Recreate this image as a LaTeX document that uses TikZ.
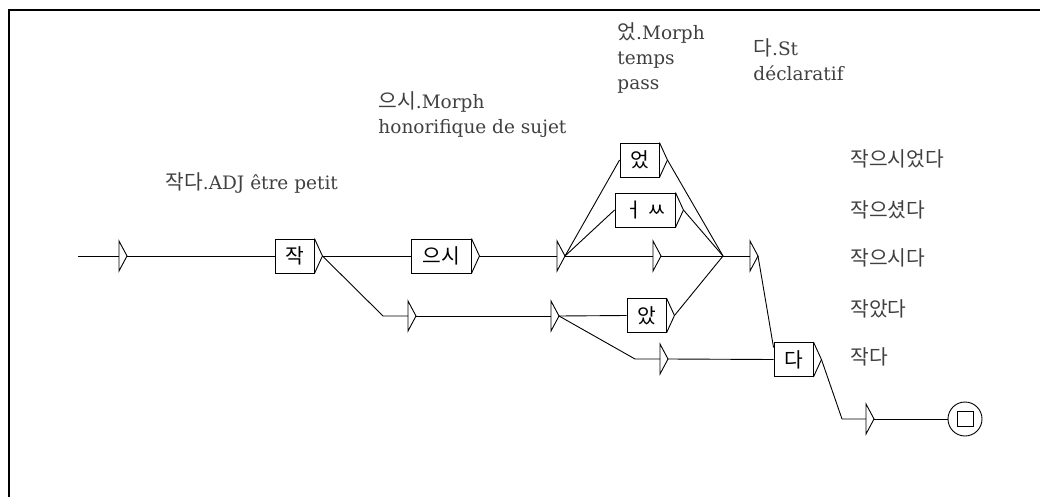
\documentclass[tikz,border=0pt]{standalone}
\usepackage{fontspec}
\setmainfont{DejaVu Serif}
\newfontfamily\krfont{Noto Sans CJK KR}[Scale=1.1]
\newcommand{\kor}[1]{{\krfont #1}}
\usetikzlibrary{positioning}

\tikzset{
  box/.style={draw, rectangle, inner sep=0pt, minimum height=34pt},
  lab/.style={anchor=west, align=left, text=black!75, inner sep=0pt},
  tri/.pic={\draw (-8,-15) -- (0,0) -- (-8,15) -- cycle;
    \coordinate (-in) at (-8,0);
    \coordinate (-out) at (0,0);}
}
\newcommand{\boxtri}[1]{\draw (#1.north east) -- ([xshift=8pt]#1.east) coordinate (#1-out) -- (#1.south east);}

\begin{document}
\begin{tikzpicture}[x=1pt, y=-1pt, line width=0.9pt, font=\fontsize{18.5}{25}\selectfont]
\useasboundingbox (0,0) rectangle (1040,497);
\draw[line width=2pt] (9,497) -- (9,10) -- (1040,10);
%
\node[lab] (l1) at (165,183) {\kor{작다}.ADJ être petit};
\node[lab] (l2) at (378,114.5) {\kor{으시}.Morph\\honorifique de sujet};
\node[lab] (l3) at (617,58) {\kor{었}.Morph\\temps\\pass};
\node[lab] (l4) at (753,59.5) {\kor{다}.St\\déclaratif};
\node[lab] (w1) at (850,159) {\kor{작으시었다}};
\node[lab] (w2) at (850,210) {\kor{작으셨다}};
\node[lab] (w3) at (850,258) {\kor{작으시다}};
\node[lab] (w4) at (850,309) {\kor{작았다}};
\node[lab] (w5) at (850,357) {\kor{작다}};
%
\node[box, minimum width=39pt] (jak) at (294.5,256) {\kor{작}};
\node[box, minimum width=60pt] (eusi) at (441,256) {\kor{으시}};
\node[box, minimum width=39pt] (eot) at (639.5,160) {\kor{었}};
\node[box, minimum width=60pt] (eoss) at (645,210) {\kor{ㅓ ㅆ}};
\node[box, minimum width=39pt] (ass) at (646.5,315.5) {\kor{았}};
\node[box, minimum width=39pt] (da) at (793.5,359.5) {\kor{다}};
\boxtri{jak} \boxtri{eusi} \boxtri{eot} \boxtri{eoss} \boxtri{ass} \boxtri{da}
%
\pic (s0) at (127,256) {tri};
\pic (s1) at (416,316) {tri};
\pic (s2) at (565,256) {tri};
\pic (s3) at (661,256) {tri};
\pic (s4) at (758,256) {tri};
\pic (s5) at (559,316) {tri};
\pic (s6) at (668,359) {tri};
\pic (s7) at (874,419) {tri};
\node[circle, draw, minimum size=34pt, inner sep=0pt] (fin) at (965,419) {};
\node[draw, minimum width=16pt, minimum height=15pt, inner sep=0pt] (finsq) at (fin.center) {};
%
\coordinate (start) at (78,256);
\coordinate (k0) at (383,316);
\coordinate (j) at (723,256);
\coordinate (k1) at (635,359);
\coordinate (k2) at (842,419);

\draw (start) -- (s0-in);
\draw (s0-out) -- (jak.west);
\draw (jak-out) -- (eusi.west);
\draw (jak-out) -- (k0) -- (s1-in);
\draw (eusi-out) -- (s2-in);
\draw (s2-out) -- (eot.west);
\draw (s2-out) -- (eoss.west);
\draw (s2-out) -- (s3-in);
\draw (eot-out) -- (j);
\draw (eoss-out) -- (j);
\draw (s3-out) -- (j);
\draw (ass-out) -- (j);
\draw (j) -- (s4-in);
\draw (s4-out) -- ([yshift=12pt]da.west);
\draw (s1-out) -- (s5-in);
\draw (s5-out) -- (ass.west);
\draw (s5-out) -- (k1) -- (s6-in);
\draw (s6-out) -- (da.west);
\draw (da-out) -- (k2) -- (s7-in);
\draw (s7-out) -- (fin);
\end{tikzpicture}
\end{document}
